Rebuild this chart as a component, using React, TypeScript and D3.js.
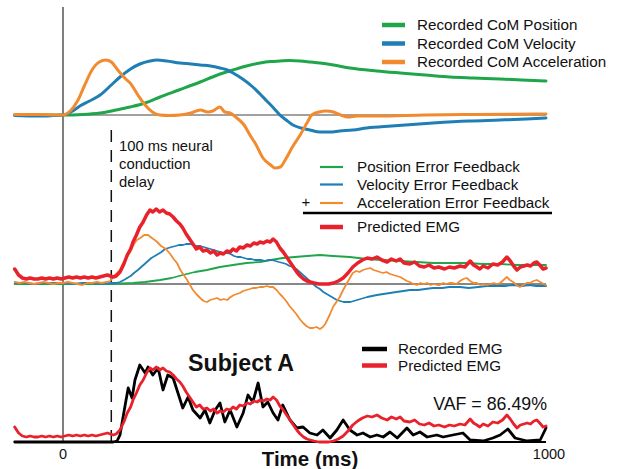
import { useEffect, useRef } from "react"
import * as d3 from "d3"

// Data: [time (ms), amplitude (a.u.)]
const comPosition: [number, number][] = [[-100,0],[0,0],[40,0.5],[77,2],[110,5],[139,8],[170,12],[201,18],[240,25],[284,33],[320,40],[352,45],[380,49],[408,52],[430,53.5],[449,54],[470,54.5],[491,54],[512,53],[532,52],[560,50],[594,47],[650,44],[698,42],[750,40],[801,38],[850,37],[905,36],[950,35],[1000,34]]
const comVelocity: [number, number][] = [[-100,-0.5],[-50,-1],[-20,-0.5],[0,0],[20,4],[35,9],[55,14],[77,20],[100,30],[118,38],[140,46],[159,51],[180,54],[195,55],[215,54],[242,52],[265,51],[284,50],[305,49],[325,47],[340,45],[352,42],[372,36],[393,28],[408,21],[422,14],[436,7],[449,0],[462,-5],[476,-10],[493,-13],[511,-15],[532,-17],[552,-17],[573,-16],[600,-15],[629,-13],[680,-11],[766,-8],[840,-6],[905,-5],[960,-4],[1000,-3]]
const comAcceleration: [number, number][] = [[-100,0.5],[-50,0.5],[-10,0],[0,0],[15,4],[30,14],[45,30],[60,45],[75,53],[89,55],[100,53],[115,44],[130,36],[139,32],[155,20],[170,10],[185,3],[200,0],[220,-0.5],[242,0],[265,2],[284,5],[300,3],[310,4],[325,8],[335,3],[346,2],[360,-3],[375,-10],[387,-20],[400,-30],[414,-43],[430,-50],[439,-53],[450,-52],[460,-45],[475,-32],[491,-20],[505,-8],[515,0],[530,3],[545,4],[560,3],[575,0],[590,-2],[610,-1],[650,-1],[750,0],[850,0.5],[1000,1]]

const posFeedback: [number, number][] = [[-100,0],[104,0],[120,0.5],[145,1],[170,2],[201,4],[225,6],[248,9],[273,12],[298,14],[325,17],[352,19],[380,21],[408,22],[430,24],[455,26],[480,27],[505,28],[532,29],[559,28],[594,27],[629,25],[660,24],[698,23],[733,22],[766,21],[800,21],[836,21],[870,20],[905,20],[940,19],[970,19],[1000,19]]
const velFeedback: [number, number][] = [[-100,1],[-80,1],[-60,0],[-40,1],[-20,1],[0,1],[20,0],[40,1],[60,1],[80,0],[100,1],[110,1],[118,2],[126,4],[133,6],[140,8],[147,11],[155,14],[162,17],[169,20],[176,23],[183,26],[190,28],[197,30],[204,32],[211,35],[218,36],[225,37],[233,38],[240,39],[248,39],[255,40],[263,40],[270,39],[277,38],[284,38],[291,37],[298,36],[305,35],[312,34],[319,33],[326,32],[333,31],[340,31],[347,30],[354,28],[361,27],[368,27],[375,26],[382,25],[390,25],[397,24],[404,24],[411,24],[418,23],[425,24],[432,24],[440,23],[447,22],[455,21],[462,20],[469,18],[476,17],[483,15],[490,12],[497,9],[504,6],[511,3],[518,0],[525,-3],[532,-5],[539,-8],[546,-10],[553,-12],[560,-14],[567,-16],[574,-17],[581,-18],[588,-18],[595,-18],[602,-17],[609,-16],[616,-15],[623,-14],[630,-13],[640,-12],[650,-11],[663,-10],[677,-9],[690,-8],[705,-7],[718,-6],[735,-6],[750,-5],[766,-4],[785,-4],[800,-3],[822,-3],[840,-4],[860,-3],[878,-2],[900,-2],[915,-2],[932,-1],[950,-2],[965,-1],[980,-2],[1000,-2]]
const accFeedback: [number, number][] = [[-100,2],[-90,1],[-80,2],[-70,1],[-60,0],[-50,1],[-40,2],[-30,1],[-20,0],[-10,1],[0,1],[10,2],[20,1],[30,0],[40,-1],[50,1],[60,1],[70,2],[80,1],[90,2],[98,3],[104,7],[110,10],[118,14],[126,22],[133,27],[140,33],[147,40],[153,44],[160,46],[168,49],[176,49],[184,46],[190,44],[195,42],[203,38],[210,36],[215,34],[222,30],[229,25],[236,21],[243,14],[250,9],[257,4],[263,-1],[269,-6],[276,-10],[284,-14],[291,-17],[298,-18],[305,-16],[312,-15],[319,-14],[326,-16],[333,-15],[340,-16],[347,-13],[354,-11],[360,-10],[366,-9],[373,-7],[380,-6],[387,-5],[393,-4],[400,-4],[408,-3],[415,-3],[422,-2],[428,-3],[435,-3],[442,-6],[449,-10],[455,-13],[462,-17],[469,-22],[476,-26],[483,-30],[490,-35],[497,-39],[504,-42],[511,-44],[518,-44],[525,-43],[532,-45],[538,-43],[543,-40],[547,-36],[553,-30],[559,-23],[566,-18],[573,-13],[580,-6],[588,1],[594,6],[600,11],[607,13],[614,12],[621,14],[628,15],[636,16],[643,14],[650,13],[656,12],[663,11],[670,12],[677,10],[684,9],[691,8],[698,7],[705,5],[712,3],[718,2],[725,0],[733,-1],[740,1],[747,0],[754,1],[761,-1],[768,0],[775,-1],[780,-1],[787,1],[794,0],[800,1],[807,1],[815,0],[822,3],[829,5],[836,6],[843,3],[850,1],[857,1],[864,-1],[871,0],[878,-1],[885,0],[892,1],[899,0],[905,1],[912,4],[919,7],[925,4],[932,2],[939,-1],[946,-3],[953,-1],[960,1],[967,1],[974,3],[981,4],[988,2],[995,0],[1000,-1]]

const predictedEMG: [number, number][] = [[-100,15],[-92,9],[-84,6],[-76,5],[-68,6],[-60,5],[-52,5],[-44,6],[-36,5],[-28,6],[-20,5],[-12,6],[-4,5],[4,6],[12,7],[20,6],[28,7],[36,6],[44,7],[52,6],[60,7],[68,6],[76,7],[84,8],[92,9],[98,8],[104,7],[110,8],[118,12],[126,20],[133,29],[140,35],[145,42],[152,49],[159,57],[166,62],[173,69],[180,74],[186,72],[193,75],[200,72],[207,74],[214,71],[221,70],[228,67],[235,63],[242,60],[248,56],[255,50],[262,45],[269,40],[276,35],[283,37],[290,33],[298,34],[305,31],[312,33],[319,29],[325,31],[332,30],[339,33],[346,32],[352,35],[359,33],[366,37],[373,36],[381,39],[388,38],[395,41],[402,40],[408,42],[415,41],[422,43],[429,42],[435,45],[442,42],[449,36],[456,32],[463,27],[470,22],[477,17],[484,12],[491,8],[498,5],[505,3],[512,2],[520,1],[530,0],[540,0],[550,0],[560,1],[570,3],[580,6],[590,11],[600,17],[610,21],[620,24],[630,26],[640,25],[650,27],[660,24],[671,22],[680,25],[690,23],[698,25],[706,21],[718,20],[728,22],[738,18],[748,17],[758,19],[768,16],[778,17],[790,15],[800,17],[810,16],[822,18],[832,17],[843,23],[850,19],[857,17],[863,15],[870,18],[880,16],[890,20],[900,19],[910,22],[919,27],[926,23],[933,18],[940,14],[947,17],[954,18],[961,19],[968,18],[975,21],[981,22],[987,19],[994,15],[1000,16]]
const recordedEMG: [number, number][] = [[-100,0],[0,0],[104,0],[112,1],[118,7],[128,35],[135,54],[143,44],[149,62],[159,77],[170,69],[176,75],[186,67],[197,74],[207,52],[217,67],[228,64],[238,49],[248,34],[259,45],[269,32],[284,24],[294,32],[304,19],[315,32],[325,39],[335,20],[346,32],[360,15],[373,29],[383,47],[393,40],[404,59],[414,35],[424,40],[435,29],[445,22],[455,37],[470,22],[484,14],[497,15],[511,9],[526,7],[538,12],[553,4],[567,12],[580,22],[594,12],[609,7],[621,9],[636,5],[650,7],[663,5],[677,10],[692,4],[712,14],[725,7],[739,10],[754,5],[774,7],[787,5],[807,7],[828,9],[843,2],[870,1],[890,4],[905,7],[921,13],[936,4],[961,1],[988,2],[1000,14]]

const topLegend = ["Recorded CoM Position", "Recorded CoM Velocity", "Recorded CoM Acceleration"]
const midLegend = ["Position Error Feedback", "Velocity Error Feedback", "Acceleration Error Feedback", "Predicted EMG"]
const botLegend = ["Recorded EMG", "Predicted EMG"]
const delayLabel = ["100 ms neural", "conduction", "delay"]
const xTicks = [0, 1000]
const delayMs = 100

const GREEN = "#1fa64a"
const BLUE = "#1f7fb5"
const ORANGE = "#f28b30"
const RED = "#e8212b"
const FONT = "'Liberation Sans', Arial, sans-serif"

export default function App() {
    const svgRef = useRef<SVGSVGElement>(null)

    useEffect(() => {
        const svg = d3.select(svgRef.current)
        svg.selectAll("*").remove()

        const x = d3.scaleLinear().domain([0, 1000]).range([63, 546])
        const yTop = d3.scaleLinear().domain([0, 55]).range([115, 60])
        const yMid = d3.scaleLinear().domain([0, 74]).range([284, 210])
        const yBot = d3.scaleLinear().domain([0, 74]).range([442, 368])
        const xStart = x(-100), xEnd = x(1000)

        const drawLine = (data, y, color, width, curve = d3.curveLinear) => {
            const line = d3.line<[number, number]>()
                .x(d => x(d[0]))
                .y(d => y(d[1]))
                .curve(curve)
            svg.append("path")
                .attr("d", line(data))
                .attr("fill", "none")
                .attr("stroke", color)
                .attr("stroke-width", width)
                .attr("stroke-linejoin", "round")
                .attr("stroke-linecap", "round")
        }

        const hline = (x1, x2, y, color, width) => {
            svg.append("line")
                .attr("x1", x1).attr("x2", x2)
                .attr("y1", y).attr("y2", y)
                .attr("stroke", color)
                .attr("stroke-width", width)
        }

        const text = (tx, ty, label, size, anchor = "start", weight = 400) => {
            svg.append("text")
                .attr("x", tx).attr("y", ty)
                .attr("text-anchor", anchor)
                .style("font-family", FONT)
                .style("font-size", `${size}px`)
                .style("font-weight", weight)
                .attr("fill", "#111")
                .text(label)
        }

        // zero line + delay line
        svg.append("line")
            .attr("x1", x(0)).attr("x2", x(0))
            .attr("y1", 7).attr("y2", yBot(0))
            .attr("stroke", "#555").attr("stroke-width", 1.5)
        svg.append("line")
            .attr("x1", x(delayMs)).attr("x2", x(delayMs))
            .attr("y1", 130).attr("y2", yBot(0))
            .attr("stroke", "#111").attr("stroke-width", 1.5)
            .attr("stroke-dasharray", "12,8")

        // baselines
        hline(xStart, xEnd, yTop(0), "#444", 1.2)
        hline(xStart, xEnd, yMid(0), "#111", 1.2)
        hline(xStart, xEnd, yBot(0), "#000", 1.8)

        // top panel
        drawLine(comPosition, yTop, GREEN, 3, d3.curveMonotoneX)
        drawLine(comVelocity, yTop, BLUE, 3, d3.curveMonotoneX)
        drawLine(comAcceleration, yTop, ORANGE, 3, d3.curveMonotoneX)

        // middle panel
        drawLine(posFeedback, yMid, GREEN, 1.8)
        drawLine(velFeedback, yMid, BLUE, 1.8)
        drawLine(accFeedback, yMid, ORANGE, 1.8)
        drawLine(predictedEMG, yMid, RED, 3.5)

        // bottom panel
        drawLine(recordedEMG, yBot, "#000", 2.8)
        drawLine(predictedEMG, yBot, RED, 2.8)

        // legends
        const topColors = [GREEN, BLUE, ORANGE]
        topLegend.forEach((lab, i) => {
            const ly = 25 + i * 18.5
            hline(382, 405, ly, topColors[i], 4.5)
            text(417, ly + 5, lab, 15.2)
        })

        const midColors = [GREEN, BLUE, ORANGE, RED]
        const midY = [167, 184.5, 203, 227]
        midLegend.forEach((lab, i) => {
            hline(320, 343, midY[i], midColors[i], i === 3 ? 4.5 : 2.2)
            text(357, midY[i] + 5, lab, 15.2)
        })
        text(306, 207, "+", 15, "middle")
        hline(303, 552, 213, "#000", 2.5)

        const botColors = ["#000", RED]
        botLegend.forEach((lab, i) => {
            const ly = 349 + i * 16.5
            hline(362, 387, ly, botColors[i], 4.5)
            text(398, ly + 5, lab, 15.2)
        })

        text(547, 410, "VAF = 86.49%", 17.8, "end")
        text(188, 371, "Subject A", 23.2, "start", 700)

        delayLabel.forEach((lab, i) => text(119, 151 + i * 18, lab, 14.8))

        // x axis labels
        xTicks.forEach(t => text(x(t) + (t ? 3 : 0), 459, String(t), 14.5, "middle"))
        text(310, 466, "Time (ms)", 20.5, "middle", 700)
    }, [])

    return (
        <div style={{ position: "fixed", left: 0, top: 0 }}>
            <svg ref={svgRef} width={622} height={469} style={{ background: "#fff", display: "block" }} />
        </div>
    )
}
